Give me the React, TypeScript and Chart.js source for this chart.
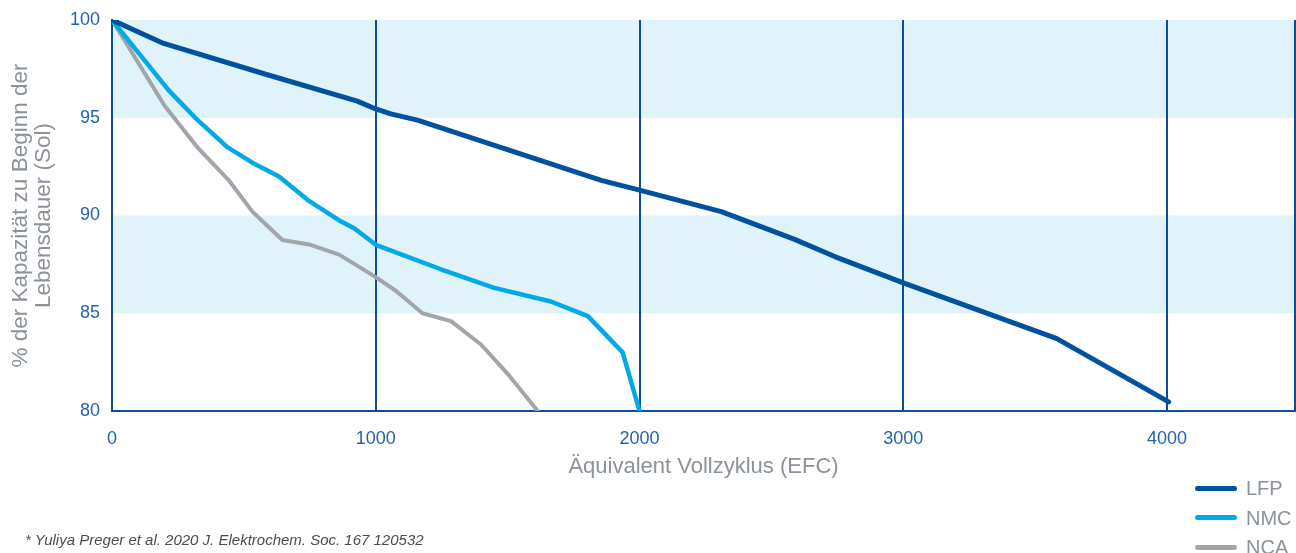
import React, { useEffect, useRef } from "react";
import { Chart, registerables } from "chart.js";

Chart.register(...registerables);

// ---- Data ----
const seriesNames = ["LFP", "NMC", "NCA"];

const lfpCycles = [0, 196, 589, 930, 1000, 1057, 1158, 1855, 2000, 2310, 2588, 2740, 3000, 3582, 4006];
const lfpCapacity = [100, 98.8, 97.2, 95.85, 95.45, 95.2, 94.88, 91.8, 91.3, 90.2, 88.78, 87.9, 86.55, 83.7, 80.47];

const nmcCycles = [0, 215, 323, 437, 532, 633, 741, 867, 918, 1000, 1247, 1449, 1664, 1804, 1936, 2000];
const nmcCapacity = [100, 96.4, 94.9, 93.5, 92.7, 92.0, 90.8, 89.7, 89.35, 88.5, 87.25, 86.3, 85.6, 84.85, 83.0, 80.0];

const ncaCycles = [0, 200, 323, 443, 532, 646, 753, 861, 994, 1076, 1177, 1285, 1399, 1500, 1614];
const ncaCapacity = [100, 95.6, 93.5, 91.8, 90.2, 88.75, 88.5, 88.0, 86.9, 86.15, 85.0, 84.6, 83.4, 81.9, 80.0];

const xTickValues = [0, 1000, 2000, 3000, 4000];
const xMin = 0;
const xMax = 4485;
const yTickValues = [80, 85, 90, 95, 100];
const yMin = 80;
const yMax = 100;
const bandRanges: [number, number][] = [
  [95, 100],
  [85, 90],
];

const xTitle = "Äquivalent Vollzyklus (EFC)";
const yTitle = ["% der Kapazität zu Beginn der", "Lebensdauer (Sol)"];
const footnote = "* Yuliya Preger et al. 2020 J. Elektrochem. Soc. 167 120532";

// ---- Styles ----
const LFP_COLOR = "#00519e";
const NMC_COLOR = "#00a9e7";
const NCA_COLOR = "#a2a5aa";
const GRID_COLOR = "#0a4f9c";
const BAND_COLOR = "#e0f2fa";
const TICK_COLOR = "#2462ab";
const TITLE_COLOR = "#8c9299";
const FONT = "'Liberation Sans', Arial, sans-serif";

const seriesColors = [LFP_COLOR, NMC_COLOR, NCA_COLOR];
const seriesWidths = [5, 4.5, 4];

const bandPlugin = {
  id: "bands",
  beforeDraw(chart: any) {
    const { ctx, chartArea, scales } = chart;
    const y = scales.y;
    ctx.save();
    ctx.fillStyle = BAND_COLOR;
    for (const [lo, hi] of bandRanges) {
      const top = y.getPixelForValue(hi);
      const bot = y.getPixelForValue(lo);
      ctx.fillRect(chartArea.left, top, chartArea.right - chartArea.left, bot - top);
    }
    ctx.restore();
  },
};

function toPoints(xs: number[], ys: number[]) {
  return xs.map((x, i) => ({ x, y: ys[i] }));
}

export default function App() {
  const canvasRef = useRef<HTMLCanvasElement | null>(null);

  useEffect(() => {
    if (!canvasRef.current) return;
    Chart.defaults.font.family = FONT;
    const allX = [lfpCycles, nmcCycles, ncaCycles];
    const allY = [lfpCapacity, nmcCapacity, ncaCapacity];
    const chart = new Chart(canvasRef.current, {
      type: "line",
      data: {
        datasets: seriesNames.map((name, i) => ({
          label: name,
          data: toPoints(allX[i], allY[i]),
          borderColor: seriesColors[i],
          backgroundColor: seriesColors[i],
          borderWidth: seriesWidths[i],
          pointRadius: 0,
          tension: 0,
          fill: false,
          borderJoinStyle: "round" as const,
          borderCapStyle: "round" as const,
        })),
      },
      options: {
        animation: false,
        responsive: false,
        maintainAspectRatio: false,
        layout: { padding: { left: 0, right: 1, top: 20, bottom: 72 } },
        plugins: {
          legend: { display: false },
          tooltip: { enabled: false },
        },
        scales: {
          x: {
            type: "linear",
            min: xMin,
            max: xMax,
            afterBuildTicks: (scale: any) => {
              scale.ticks = [...xTickValues, xMax].map((v) => ({ value: v }));
            },
            afterFit: (scale: any) => {
              scale.height = 70;
              scale.paddingLeft = 0;
              scale.paddingRight = 0;
            },
            ticks: {
              autoSkip: false,
              maxRotation: 0,
              padding: 17,
              color: TICK_COLOR,
              font: { size: 18 },
              callback: (v: any) => (xTickValues.includes(Number(v)) ? String(v) : ""),
            },
            grid: { color: GRID_COLOR, lineWidth: 2, drawTicks: false },
            border: { display: true, color: GRID_COLOR, width: 2 },
            title: {
              display: true,
              text: xTitle,
              color: TITLE_COLOR,
              font: { size: 22 },
              padding: { top: 0, bottom: 1 },
            },
          },
          y: {
            type: "linear",
            min: yMin,
            max: yMax,
            afterBuildTicks: (scale: any) => {
              scale.ticks = yTickValues.map((v) => ({ value: v }));
            },
            afterFit: (scale: any) => {
              scale.width = 112;
              scale.paddingTop = 0;
              scale.paddingBottom = 0;
            },
            ticks: {
              padding: 12,
              color: TICK_COLOR,
              font: { size: 18 },
            },
            grid: { display: false, drawTicks: false },
            border: { display: true, color: GRID_COLOR, width: 2 },
            title: {
              display: true,
              text: yTitle,
              color: TITLE_COLOR,
              font: { size: 22.5, lineHeight: 1.02 },
              padding: { top: 9.5, bottom: 0 },
            },
          },
        },
      },
      plugins: [bandPlugin],
    } as any);
    return () => chart.destroy();
  }, []);

  const legendRows = seriesNames.map((name, i) => (
    <div
      key={name}
      style={{
        position: "absolute",
        left: 1195,
        top: 488 + i * 29.5 - 12,
        height: 24,
        display: "flex",
        alignItems: "center",
      }}
    >
      <span
        style={{
          display: "inline-block",
          width: 42,
          height: 5,
          borderRadius: 3,
          background: seriesColors[i],
        }}
      />
      <span
        style={{
          marginLeft: 9,
          fontFamily: FONT,
          fontSize: 20,
          color: TITLE_COLOR,
          lineHeight: "24px",
        }}
      >
        {name}
      </span>
    </div>
  ));

  return (
    <div
      style={{
        position: "absolute",
        left: 0,
        top: 0,
        width: 1296,
        height: 553,
        overflow: "hidden",
        background: "#ffffff",
      }}
    >
      <canvas ref={canvasRef} width={1296} height={553} style={{ display: "block" }} />
      {legendRows}
      <div
        style={{
          position: "absolute",
          left: 25,
          top: 531,
          fontFamily: FONT,
          fontStyle: "italic",
          fontSize: 15,
          lineHeight: "18px",
          color: "#4d4d4d",
          whiteSpace: "nowrap",
        }}
      >
        {footnote}
      </div>
    </div>
  );
}
